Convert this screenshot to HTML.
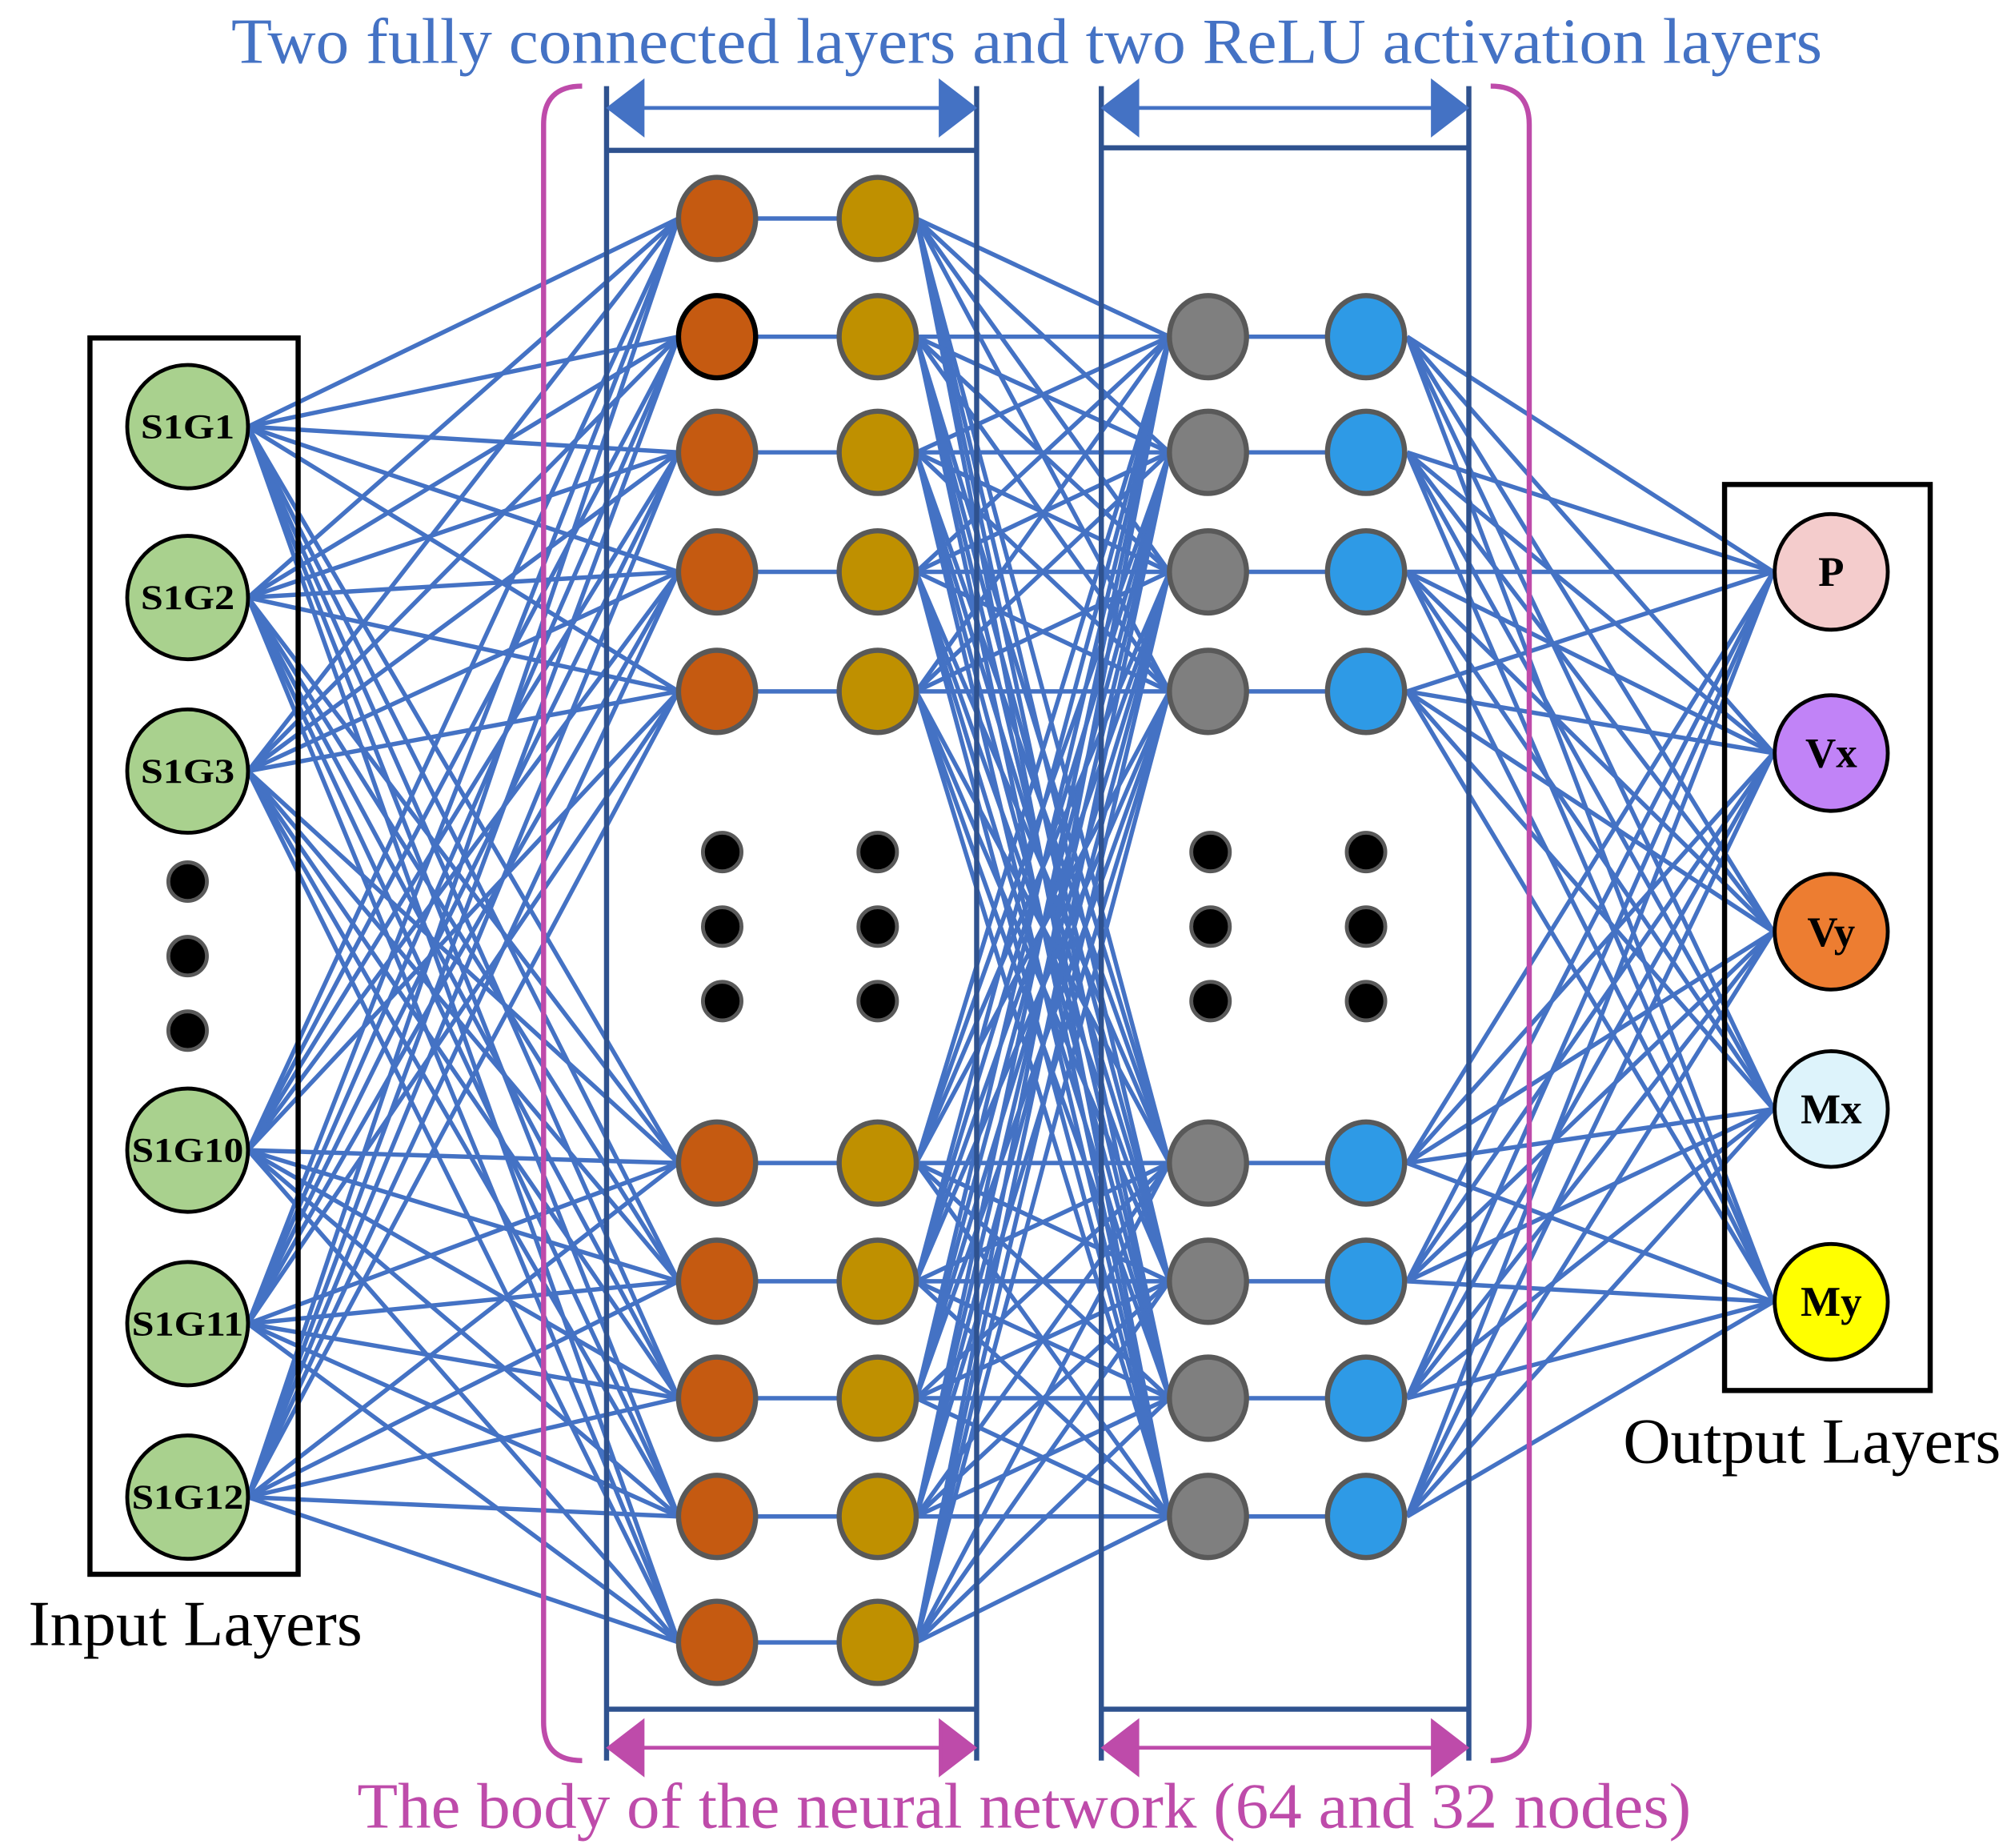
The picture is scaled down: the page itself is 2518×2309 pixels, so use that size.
<!DOCTYPE html>
<html><head><meta charset="utf-8"><style>
html,body{margin:0;padding:0;background:#fff;}
svg{display:block;}
text{font-family:"Liberation Serif",serif;}
</style></head><body>
<svg id="s" width="2518" height="2309" viewBox="0 0 1568 1438" preserveAspectRatio="none" xmlns="http://www.w3.org/2000/svg">
<g id="lines" stroke="#4472C4" stroke-width="3.4" fill="none"></g>
<g stroke="#2F528F" stroke-width="4" fill="none">
<line x1="472" y1="67" x2="472" y2="1370"/><line x1="760" y1="67" x2="760" y2="1370"/>
<line x1="472" y1="117" x2="760" y2="117"/><line x1="472" y1="1330" x2="760" y2="1330"/>
<line x1="857" y1="67" x2="857" y2="1370"/><line x1="1143" y1="67" x2="1143" y2="1370"/>
<line x1="857" y1="115" x2="1143" y2="115"/><line x1="857" y1="1330" x2="1143" y2="1330"/>
</g>
<g stroke="#000" stroke-width="4" fill="none">
<rect x="70" y="263" width="162" height="962"/>
<rect x="1342" y="377" width="160" height="705"/>
</g>
<g fill="#4472C4" stroke="#4472C4" stroke-width="3">
<line x1="490" y1="84" x2="742" y2="84"/><polygon points="474,84 500,64 500,104"/><polygon points="758,84 732,64 732,104"/>
<line x1="875" y1="84" x2="1125" y2="84"/><polygon points="859,84 885,64 885,104"/><polygon points="1141,84 1115,64 1115,104"/>
</g>
<g fill="#BE4BAA" stroke="#BE4BAA" stroke-width="3">
<line x1="490" y1="1360" x2="742" y2="1360"/><polygon points="474,1360 500,1340 500,1380"/><polygon points="758,1360 732,1340 732,1380"/>
<line x1="875" y1="1360" x2="1125" y2="1360"/><polygon points="859,1360 885,1340 885,1380"/><polygon points="1141,1360 1115,1340 1115,1380"/>
</g>
<g stroke="#BE4BAA" stroke-width="4" fill="none">
<path d="M453,67 Q423,67 423,97 L423,1340 Q423,1370 453,1370"/>
<path d="M1160,67 Q1190,67 1190,97 L1190,1340 Q1190,1370 1160,1370"/>
</g>
<g id="nodes"></g>
<text x="180" y="49" font-size="50" fill="#4472C4" textLength="1238" lengthAdjust="spacingAndGlyphs">Two fully connected layers and two ReLU activation layers</text>
<text x="278" y="1422" font-size="50" fill="#BE4BAA" textLength="1038" lengthAdjust="spacingAndGlyphs">The body of the neural network (64 and 32 nodes)</text>
<text x="22" y="1280" font-size="50" fill="#000" textLength="260" lengthAdjust="spacingAndGlyphs">Input Layers</text>
<text x="1263" y="1138" font-size="50" fill="#000" textLength="294" lengthAdjust="spacingAndGlyphs">Output Layers</text>
</svg>
<script>
var NS="http://www.w3.org/2000/svg";
function el(p,t,a,txt){var e=document.createElementNS(NS,t);for(var k in a)e.setAttribute(k,a[k]);if(txt)e.textContent=txt;document.getElementById(p).appendChild(e);return e;}
var iy=[332,465,600,895,1030,1165];
var hy=[170,262,352,445,538,905,997,1088,1180,1278];
var gy=[262,352,445,538,905,997,1088,1180];
var oy=[445,586,725,863,1013];
iy.forEach(function(a){hy.forEach(function(b){el("lines","line",{x1:193,y1:a,x2:528,y2:b});});});
hy.forEach(function(a){el("lines","line",{x1:588,y1:a,x2:653,y2:a});gy.forEach(function(b){el("lines","line",{x1:713,y1:a,x2:910,y2:b});});});
gy.forEach(function(a){el("lines","line",{x1:970,y1:a,x2:1033,y2:a});oy.forEach(function(b){el("lines","line",{x1:1095,y1:a,x2:1380,y2:b});});});
var names=["S1G1","S1G2","S1G3","S1G10","S1G11","S1G12"];
iy.forEach(function(y,i){el("nodes","ellipse",{cx:146,cy:y,rx:47,ry:48,fill:"#A9D18E",stroke:"#000","stroke-width":3});
var w=names[i].length>4?87:73;
el("nodes","text",{x:146-w/2,y:y+9,"font-size":27,"font-weight":"bold",fill:"#000",textLength:w,lengthAdjust:"spacingAndGlyphs"},names[i]);});
[686,744,802].forEach(function(y){el("nodes","circle",{cx:146,cy:y,r:15,fill:"#000",stroke:"#595959","stroke-width":3});
[562,683,942,1063].forEach(function(x){el("nodes","circle",{cx:x,cy:y-23,r:15,fill:"#000",stroke:"#595959","stroke-width":3});});});
hy.forEach(function(y,i){el("nodes","ellipse",{cx:558,cy:y,rx:30,ry:32,fill:"#C55A11",stroke:i==1?"#000":"#595959","stroke-width":4});
el("nodes","ellipse",{cx:683,cy:y,rx:30,ry:32,fill:"#BF9000",stroke:"#595959","stroke-width":4});});
gy.forEach(function(y){el("nodes","ellipse",{cx:940,cy:y,rx:30,ry:32,fill:"#7F7F7F",stroke:"#595959","stroke-width":4});
el("nodes","ellipse",{cx:1063,cy:y,rx:30,ry:32,fill:"#2E9AE6",stroke:"#595959","stroke-width":4});});
var on=["P","Vx","Vy","Mx","My"],oc=["#F4CCCC","#C183F7","#ED7D31","#DDF3FB","#FFFF00"];
oy.forEach(function(y,i){el("nodes","ellipse",{cx:1425,cy:y,rx:44,ry:45,fill:oc[i],stroke:"#000","stroke-width":3});
el("nodes","text",{x:1425,y:y+11,"font-size":33,"font-weight":"bold","text-anchor":"middle",fill:"#000"},on[i]);});
</script>
</body></html>
